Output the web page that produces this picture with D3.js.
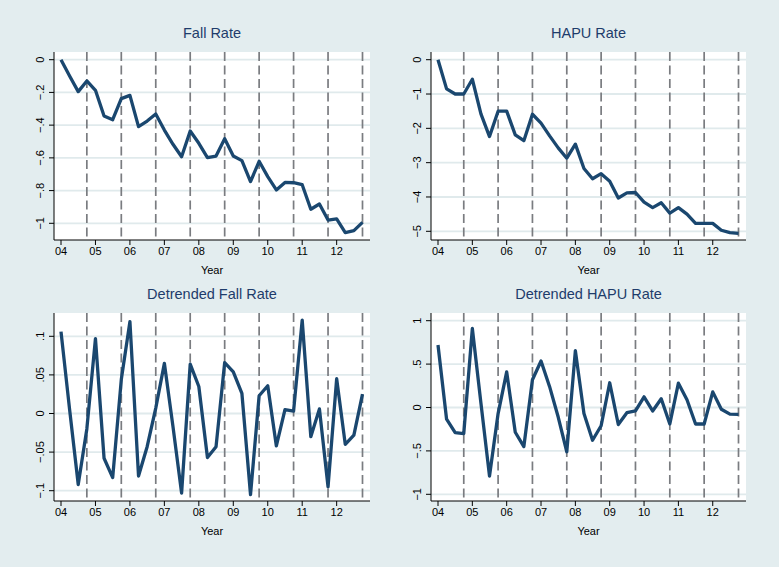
<!DOCTYPE html>
<html><head><meta charset="utf-8">
<script src="https://cdn.jsdelivr.net/npm/d3@7"></script>
<style>
html,body{margin:0;padding:0;background:#E3EDEF;}
svg{display:block;font-family:"Liberation Sans",Arial,Helvetica,sans-serif;}
</style></head>
<body>
<svg id="chart" width="779" height="567"></svg>
<script>
// Quarterly observations, 2004Q1 .. 2012Q4
const quarters = d3.range(36).map(i => 2004 + i * 0.25);
const yearTicks = [2004, 2005, 2006, 2007, 2008, 2009, 2010, 2011, 2012];
const yearLabels = ["04", "05", "06", "07", "08", "09", "10", "11", "12"];
const dashedYears = [2004.75, 2005.75, 2006.75, 2007.75, 2008.75, 2009.75, 2010.75, 2011.75, 2012.75];

const fallRate = [0, -0.10, -0.195, -0.13, -0.187, -0.344, -0.367, -0.238, -0.218, -0.409, -0.375, -0.332,
  -0.43, -0.517, -0.593, -0.436, -0.511, -0.599, -0.589, -0.483, -0.589, -0.617, -0.745, -0.621,
  -0.715, -0.796, -0.75, -0.752, -0.764, -0.914, -0.882, -0.98, -0.973, -1.057, -1.045, -0.994];
const hapuRate = [0, -0.85, -1.0, -1.0, -0.57, -1.58, -2.24, -1.5, -1.5, -2.19, -2.36, -1.59,
  -1.85, -2.22, -2.57, -2.87, -2.46, -3.17, -3.47, -3.32, -3.54, -4.03, -3.88, -3.87,
  -4.15, -4.31, -4.17, -4.47, -4.31, -4.50, -4.77, -4.77, -4.77, -4.97, -5.04, -5.06];
const detFallRate = [0.106, 0.005, -0.092, -0.02, 0.097, -0.058, -0.083, 0.044, 0.119, -0.081, -0.043, 0.007,
  0.065, -0.017, -0.103, 0.064, 0.035, -0.057, -0.043, 0.066, 0.054, 0.026, -0.105, 0.023,
  0.036, -0.042, 0.005, 0.003, 0.121, -0.030, 0.006, -0.095, 0.045, -0.040, -0.028, 0.025];
const detHapuRate = [0.72, -0.135, -0.29, -0.30, 0.91, 0.05, -0.79, -0.07, 0.41, -0.285, -0.45, 0.32,
  0.535, 0.24, -0.11, -0.51, 0.655, -0.07, -0.377, -0.21, 0.285, -0.196, -0.06, -0.04,
  0.123, -0.04, 0.10, -0.19, 0.28, 0.09, -0.19, -0.19, 0.18, -0.02, -0.077, -0.08];

const fallTicks = [0, -0.2, -0.4, -0.6, -0.8, -1];
const fallTickLabels = ["0", "\u2212.2", "\u2212.4", "\u2212.6", "\u2212.8", "\u22121"];
const hapuTicks = [0, -1, -2, -3, -4, -5];
const hapuTickLabels = ["0", "\u22121", "\u22122", "\u22123", "\u22124", "\u22125"];
const detFallTicks = [0.1, 0.05, 0, -0.05, -0.1];
const detFallTickLabels = [".1", ".05", "0", "\u2212.05", "\u2212.1"];
const detHapuTicks = [1, 0.5, 0, -0.5, -1];
const detHapuTickLabels = ["1", ".5", "0", "\u2212.5", "\u22121"];

const titles = ["Fall Rate", "HAPU Rate", "Detrended Fall Rate", "Detrended HAPU Rate"];

const svg = d3.select("#chart");

const panels = [
  {title: titles[0], data: fallRate, ticks: fallTicks, labels: fallTickLabels,
   box: {l: 54, r: 370, t: 52, b: 240}, xr: [61, 362.5], yd: [0, -1], yr: [59.7, 223.3]},
  {title: titles[1], data: hapuRate, ticks: hapuTicks, labels: hapuTickLabels,
   box: {l: 431, r: 746, t: 52, b: 240}, xr: [438, 738.5], yd: [0, -5], yr: [59.7, 231.3]},
  {title: titles[2], data: detFallRate, ticks: detFallTicks, labels: detFallTickLabels,
   box: {l: 54, r: 370, t: 313, b: 501}, xr: [61, 362.5], yd: [0.1, -0.1], yr: [336.3, 490.7]},
  {title: titles[3], data: detHapuRate, ticks: detHapuTicks, labels: detHapuTickLabels,
   box: {l: 431, r: 746, t: 313, b: 501}, xr: [438, 738.5], yd: [1, -1], yr: [320.7, 494.3]}
];

panels.forEach(p => {
  const g = svg.append("g");
  const B = p.box;
  const x = d3.scaleLinear().domain([2004, 2012.75]).range(p.xr);
  const y = d3.scaleLinear().domain(p.yd).range(p.yr);

  // plot region
  g.append("rect").attr("x", B.l).attr("y", B.t).attr("width", B.r - B.l).attr("height", B.b - B.t)
    .attr("fill", "#ffffff");

  // horizontal grid
  g.selectAll("line.grid").data(p.ticks).enter().append("line")
    .attr("x1", B.l).attr("x2", B.r)
    .attr("y1", d => y(d)).attr("y2", d => y(d))
    .attr("stroke", "#E0EAEC").attr("stroke-width", 1.8);

  // dashed vertical lines
  g.selectAll("line.vd").data(dashedYears).enter().append("line")
    .attr("x1", d => x(d)).attr("x2", d => x(d))
    .attr("y1", B.t).attr("y2", B.b)
    .attr("stroke", "#7A7C80").attr("stroke-width", 1.7)
    .attr("stroke-dasharray", "9,4.5");

  // data line
  const line = d3.line().x((d, i) => x(quarters[i])).y(d => y(d));
  g.append("path").datum(p.data).attr("d", line)
    .attr("fill", "none").attr("stroke", "#1A476F").attr("stroke-width", 3.3)
    .attr("stroke-linejoin", "round");

  // y axis
  g.append("line").attr("x1", B.l).attr("x2", B.l).attr("y1", B.t).attr("y2", B.b)
    .attr("stroke", "#000").attr("stroke-width", 1);
  p.ticks.forEach((t, i) => {
    g.append("line").attr("x1", B.l - 5).attr("x2", B.l).attr("y1", y(t)).attr("y2", y(t))
      .attr("stroke", "#000").attr("stroke-width", 1);
    g.append("text").attr("transform", `translate(${B.l - 10},${y(t)}) rotate(-90)`)
      .attr("text-anchor", "middle").attr("font-size", 11).attr("fill", "#000")
      .text(p.labels[i]);
  });

  // x axis
  g.append("line").attr("x1", B.l).attr("x2", B.r).attr("y1", B.b).attr("y2", B.b)
    .attr("stroke", "#000").attr("stroke-width", 1);
  yearTicks.forEach((t, i) => {
    g.append("line").attr("x1", x(t)).attr("x2", x(t)).attr("y1", B.b).attr("y2", B.b + 5)
      .attr("stroke", "#000").attr("stroke-width", 1);
    g.append("text").attr("x", x(t)).attr("y", B.b + 15)
      .attr("text-anchor", "middle").attr("font-size", 11).attr("fill", "#000")
      .text(yearLabels[i]);
  });
  g.append("text").attr("x", (B.l + B.r) / 2).attr("y", B.b + 34)
    .attr("text-anchor", "middle").attr("font-size", 11).attr("fill", "#000").text("Year");

  // title
  g.append("text").attr("x", (B.l + B.r) / 2).attr("y", B.t - 14)
    .attr("text-anchor", "middle").attr("font-size", 14.5).attr("fill", "#1E3C6B").text(p.title);
});
</script>
</body></html>
